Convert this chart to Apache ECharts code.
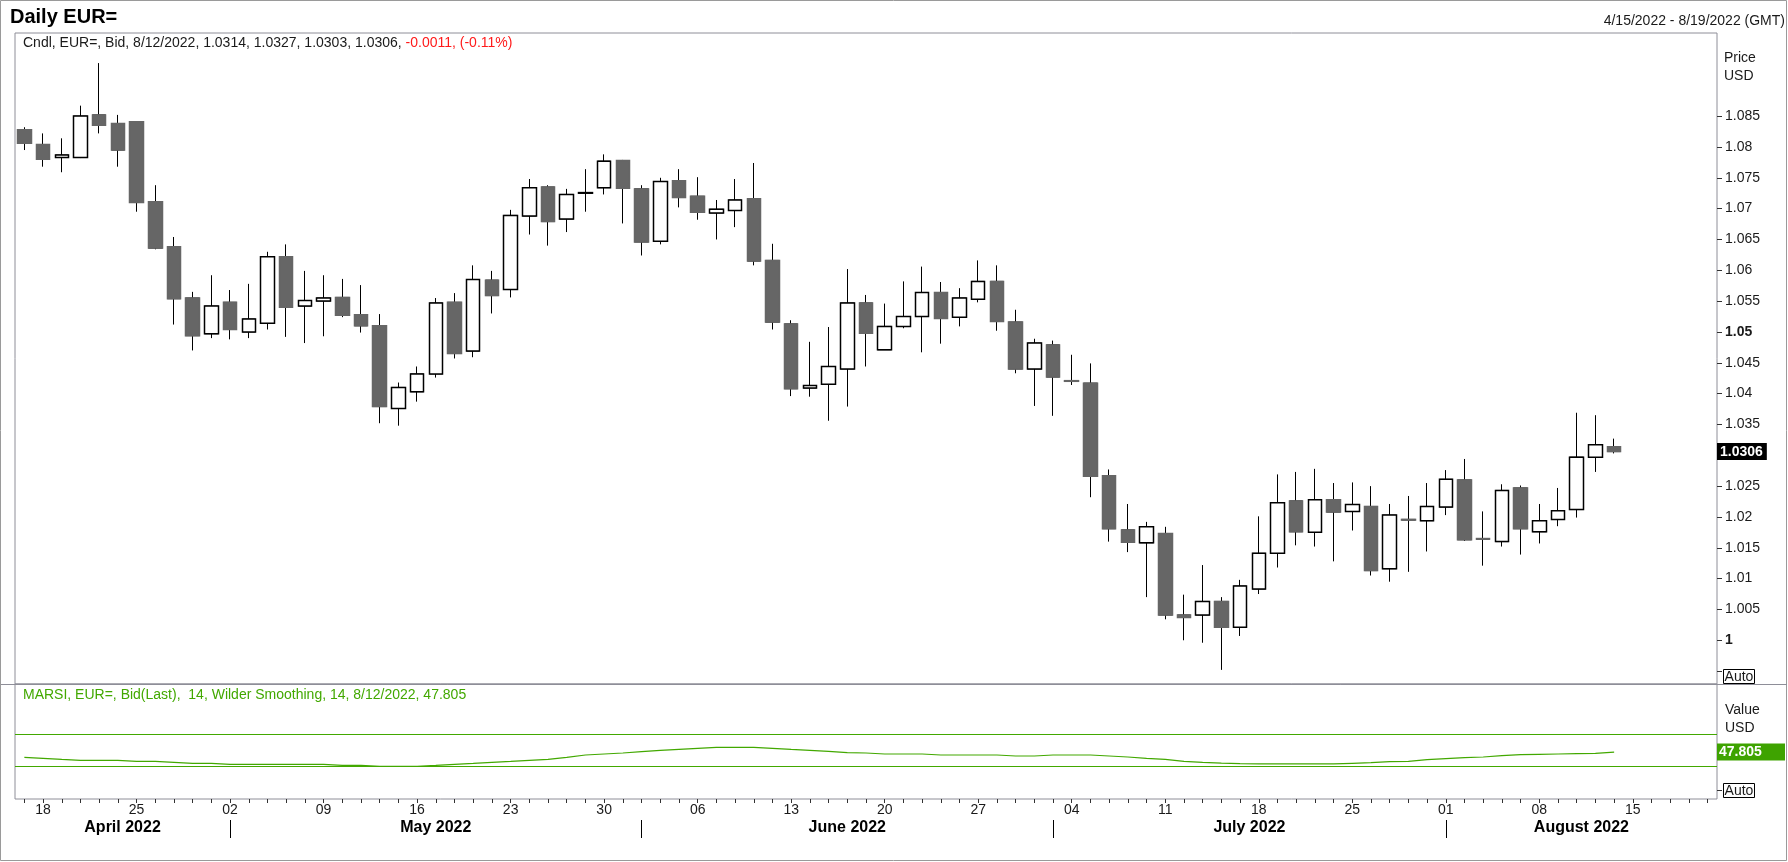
<!DOCTYPE html>
<html>
<head>
<meta charset="utf-8">
<script src="https://cdn.jsdelivr.net/npm/echarts@6/dist/echarts.min.js"></script>
<style>
html,body{margin:0;padding:0;background:#ffffff;}
#chart{width:1788px;height:862px;}
</style>
</head>
<body>
<div id="chart"></div>
<script>
// ---------------- DATA ----------------
const dates = [
'2022-04-15','2022-04-18','2022-04-19','2022-04-20','2022-04-21','2022-04-22','2022-04-25','2022-04-26','2022-04-27','2022-04-28','2022-04-29',
'2022-05-02','2022-05-03','2022-05-04','2022-05-05','2022-05-06','2022-05-09','2022-05-10','2022-05-11','2022-05-12','2022-05-13',
'2022-05-16','2022-05-17','2022-05-18','2022-05-19','2022-05-20','2022-05-23','2022-05-24','2022-05-25','2022-05-26','2022-05-27','2022-05-30','2022-05-31',
'2022-06-01','2022-06-02','2022-06-03','2022-06-06','2022-06-07','2022-06-08','2022-06-09','2022-06-10','2022-06-13','2022-06-14','2022-06-15','2022-06-16','2022-06-17',
'2022-06-20','2022-06-21','2022-06-22','2022-06-23','2022-06-24','2022-06-27','2022-06-28','2022-06-29','2022-06-30',
'2022-07-01','2022-07-04','2022-07-05','2022-07-06','2022-07-07','2022-07-08','2022-07-11','2022-07-12','2022-07-13','2022-07-14','2022-07-15',
'2022-07-18','2022-07-19','2022-07-20','2022-07-21','2022-07-22','2022-07-25','2022-07-26','2022-07-27','2022-07-28','2022-07-29',
'2022-08-01','2022-08-02','2022-08-03','2022-08-04','2022-08-05','2022-08-08','2022-08-09','2022-08-10','2022-08-11','2022-08-12',
'2022-08-15','2022-08-16','2022-08-17','2022-08-18','2022-08-19'
];

const openP = [
1.0828,1.0804,1.0783,1.0783,1.0852,1.0838,1.0841,1.0711,1.0638,1.0555,
1.0497,1.0548,1.0500,1.0514,1.0622,1.0542,1.0550,1.0556,1.0528,1.0510,
1.0376,1.0403,1.0432,1.0548,1.0469,1.0584,1.0569,1.0688,1.0735,1.0683,
1.0725,1.0734,1.0778,1.0732,1.0647,1.0745,1.0720,1.0693,1.0697,1.0716,
1.0616,1.0513,1.0409,1.0415,1.0440,1.0547,1.0471,1.0509,1.0525,1.0564,
1.0524,1.0553,1.0582,1.0516,1.0440,1.0479,1.0421,1.0417,1.0267,1.0179,
1.0158,1.0173,1.0041,1.0041,1.0063,1.0021,1.0083,1.0141,1.0226,1.0175,
1.0228,1.0209,1.0217,1.0116,1.0196,1.0194,1.0216,1.0260,1.0165,1.0160,
1.0247,1.0176,1.0196,1.0212,1.0297,1.0314
];
const highP = [
1.0832,1.0822,1.0814,1.0867,1.0936,1.0852,1.0842,1.0738,1.0654,1.0565,
1.0592,1.0568,1.0578,1.0630,1.0642,1.0599,1.0592,1.0586,1.0576,1.0529,
1.0418,1.0444,1.0555,1.0563,1.0608,1.0599,1.0698,1.0748,1.0738,1.0732,
1.0764,1.0788,1.0779,1.0738,1.0750,1.0764,1.0751,1.0714,1.0748,1.0774,
1.0643,1.0519,1.0484,1.0508,1.0602,1.0560,1.0546,1.0582,1.0606,1.0581,
1.0571,1.0616,1.0608,1.0536,1.0489,1.0486,1.0463,1.0449,1.0277,1.0221,
1.0192,1.0184,1.0074,1.0122,1.0070,1.0098,1.0201,1.0269,1.0273,1.0278,
1.0255,1.0256,1.0250,1.0221,1.0234,1.0255,1.0276,1.0294,1.0209,1.0253,
1.0251,1.0221,1.0247,1.0369,1.0365,1.0327
];
const lowP = [
1.0795,1.0768,1.0759,1.0782,1.0822,1.0768,1.0695,1.0634,1.0512,1.0470,
1.0490,1.0488,1.0490,1.0504,1.0492,1.0482,1.0493,1.0524,1.0499,1.0352,
1.0348,1.0387,1.0426,1.0457,1.0459,1.0530,1.0556,1.0658,1.0640,1.0662,
1.0695,1.0723,1.0676,1.0624,1.0642,1.0702,1.0682,1.0650,1.0670,1.0608,
1.0504,1.0396,1.0395,1.0356,1.0379,1.0444,1.0471,1.0506,1.0467,1.0481,
1.0509,1.0548,1.0502,1.0433,1.0380,1.0364,1.0414,1.0232,1.0160,1.0143,
1.0070,1.0034,1.0000,0.9996,0.9952,1.0007,1.0075,1.0118,1.0154,1.0152,
1.0128,1.0178,1.0105,1.0095,1.0111,1.0144,1.0203,1.0161,1.0121,1.0152,
1.0139,1.0157,1.0185,1.0199,1.0273,1.0303
];
const closeP = [
1.0806,1.0780,1.0787,1.0850,1.0835,1.0795,1.0710,1.0636,1.0554,1.0494,
1.0542,1.0504,1.0521,1.0622,1.0540,1.0551,1.0555,1.0527,1.0510,1.0379,
1.0410,1.0432,1.0547,1.0465,1.0585,1.0559,1.0689,1.0734,1.0679,1.0723,
1.0726,1.0777,1.0733,1.0646,1.0744,1.0718,1.0694,1.0699,1.0714,1.0615,
1.0516,1.0408,1.0413,1.0444,1.0547,1.0498,1.0509,1.0525,1.0564,1.0522,
1.0555,1.0582,1.0517,1.0440,1.0482,1.0427,1.0420,1.0266,1.0181,1.0159,
1.0184,1.0041,1.0037,1.0063,1.0021,1.0088,1.0141,1.0223,1.0176,1.0228,
1.0208,1.0220,1.0113,1.0203,1.0195,1.0217,1.0261,1.0163,1.0164,1.0243,
1.0181,1.0194,1.0210,1.0297,1.0317,1.0306
];

// MA RSI (14, Wilder smoothing)
const rsiValues = [
41.2,40.0,38.7,37.5,37.5,37.5,36.2,36.2,35.0,33.7,
33.7,32.5,32.5,32.5,32.5,32.5,32.5,31.2,31.2,30.0,
30.0,30.0,31.2,32.5,33.7,35.0,36.2,37.5,38.7,41.2,
44.1,45.4,46.6,48.3,50.0,51.2,52.5,53.7,53.7,53.7,
52.5,51.2,50.0,48.7,47.0,46.6,45.4,45.4,45.4,44.1,
44.1,44.1,44.1,42.9,42.9,44.1,44.1,44.1,42.9,41.6,
40.0,38.7,36.2,35.0,34.0,33.3,32.9,32.9,32.9,32.9,
32.9,33.7,34.6,35.8,36.2,38.3,39.6,40.8,41.6,43.3,
44.6,45.0,45.4,45.8,46.2,47.805
];
const rsiLevels = [70, 30];

// axis ticks / labels
const priceTickValues = [0.995,1.0,1.005,1.01,1.015,1.02,1.025,1.03,1.035,1.04,1.045,1.05,1.055,1.06,1.065,1.07,1.075,1.08,1.085];
const priceLabelValues = [1.0,1.005,1.01,1.015,1.02,1.025,1.035,1.04,1.045,1.05,1.055,1.06,1.065,1.07,1.075,1.08,1.085];
const rsiTickValues = [0];
const monthNames = ['January','February','March','April','May','June','July','August','September','October','November','December'];

// ---------------- HELPERS ----------------
const FONT = '"Liberation Sans", Arial, Helvetica, sans-serif';
const GREEN = '#42a800';
const TXT = '#1a1a1a';
const n = closeP.length;
const lastIdx = n - 1;
const lastClose = closeP[lastIdx];
const lastRsi = rsiValues[rsiValues.length - 1];

function usDate(s) {
  const p = s.split('-');
  return (+p[1]) + '/' + (+p[2]) + '/' + p[0];
}
function parseD(s) { return new Date(s + 'T00:00:00Z'); }

const candleData = openP.map((o, i) => [o, closeP[i], lowP[i], highP[i]]);
const bodyData = openP.map((o, i) => [o, closeP[i], Math.min(o, closeP[i]), Math.max(o, closeP[i])]);

// month boundaries from the dates
const monthStarts = [];
for (let i = 1; i < dates.length; i++) {
  if (dates[i].slice(5, 7) !== dates[i - 1].slice(5, 7)) monthStarts.push(i);
}
const bounds = [-0.5].concat(monthStarts, [dates.length - 0.5]);
const monthMids = [];
const monthLabels = [];
for (let k = 0; k < bounds.length - 1; k++) {
  monthMids.push((bounds[k] + bounds[k + 1]) / 2);
  const d = parseD(dates[Math.max(0, Math.ceil(bounds[k]))]);
  monthLabels.push(monthNames[d.getUTCMonth()] + ' ' + d.getUTCFullYear());
}

const change = closeP[lastIdx] - closeP[lastIdx - 1];
const changePct = change / closeP[lastIdx - 1] * 100;
const cndlHead = 'Cndl, EUR=, Bid, ' + usDate(dates[lastIdx]) + ', ' +
  openP[lastIdx].toFixed(4) + ', ' + highP[lastIdx].toFixed(4) + ', ' +
  lowP[lastIdx].toFixed(4) + ', ' + closeP[lastIdx].toFixed(4) + ', ';
const cndlChange = change.toFixed(4) + ', (' + changePct.toFixed(2) + '%)';
const rsiHead = 'MARSI, EUR=, Bid(Last),  14, Wilder Smoothing, 14, ' + usDate(dates[lastIdx]) + ', ' + lastRsi.toFixed(3);
const rangeText = usDate(dates[0]) + ' - ' + usDate(dates[dates.length - 1]) + ' (GMT)';

function fmtPrice(v) { return String(parseFloat(v.toFixed(4))); }

// ---------------- CHART ----------------
const chart = echarts.init(document.getElementById('chart'), null, { renderer: 'canvas' });

const option = {
  animation: false,
  backgroundColor: '#ffffff',
  textStyle: { fontFamily: FONT },
  grid: [
    { left: 15, top: 33, right: 71, height: 651, show: true, borderColor: '#8e8e98', borderWidth: 1, backgroundColor: 'transparent', containLabel: false, outerBoundsMode: 'none' },
    { left: 15, top: 684, right: 71, height: 115, show: true, borderColor: '#8e8e98', borderWidth: 1, backgroundColor: 'transparent', containLabel: false, outerBoundsMode: 'none' }
  ],
  xAxis: [
    {
      type: 'category', gridIndex: 0, data: dates, boundaryGap: true, position: 'bottom',
      axisLine: { show: false, onZero: false }, axisTick: { show: false }, axisLabel: { show: false }, splitLine: { show: false }
    },
    {
      type: 'category', gridIndex: 1, data: dates, boundaryGap: true, position: 'bottom',
      axisLine: { show: false, onZero: false },
      axisTick: { show: true, alignWithLabel: true, interval: 0, length: 4, lineStyle: { color: '#333', width: 1 } },
      axisLabel: {
        show: true, margin: 4, fontSize: 14, color: TXT, fontFamily: FONT,
        interval: function (idx, val) { return parseD(val).getUTCDay() === 1; },
        formatter: function (val) { return val.slice(8, 10); }
      },
      splitLine: { show: false }
    },
    {
      type: 'value', gridIndex: 1, position: 'bottom', offset: 21,
      min: -0.5, max: dates.length - 0.5,
      axisLine: { show: false, onZero: false },
      splitLine: { show: false },
      axisTick: { show: true, customValues: monthStarts, length: 18, lineStyle: { color: '#000', width: 1 } },
      axisLabel: {
        show: true, customValues: monthMids, margin: 0, fontSize: 16, fontWeight: 'bold', color: '#000', fontFamily: FONT,
        formatter: function (v) {
          for (let k = 0; k < monthMids.length; k++) if (Math.abs(monthMids[k] - v) < 1e-6) return monthLabels[k];
          return '';
        }
      }
    }
  ],
  yAxis: [
    {
      type: 'value', gridIndex: 0, position: 'right', scale: true,
      min: 0.99291, max: 1.09848,
      axisLine: { show: false, onZero: false },
      splitLine: { show: false },
      axisTick: { show: true, customValues: priceTickValues, length: 5, lineStyle: { color: '#333', width: 1 } },
      axisLabel: {
        show: true, margin: 0, customValues: priceLabelValues.concat([lastClose]),
        fontSize: 14, color: TXT, fontFamily: FONT,
        formatter: function (v) {
          if (Math.abs(v - lastClose) < 1e-9) return '{cur|' + lastClose.toFixed(4) + '}';
          const s = fmtPrice(v);
          const r = Math.round(v * 1000);
          return (r % 50 === 0) ? '{b|' + s + '}' : '{n|' + s + '}';
        },
        rich: {
          n: { fontSize: 14, color: TXT, padding: [0, 0, 0, 8], fontFamily: FONT },
          b: { fontSize: 14, color: TXT, fontWeight: 'bold', padding: [0, 0, 0, 8], fontFamily: FONT },
          cur: { fontSize: 14, color: '#ffffff', fontWeight: 'bold', backgroundColor: '#000000', padding: [2, 4, 1, 3], fontFamily: FONT }
        }
      }
    },
    {
      type: 'value', gridIndex: 1, position: 'right',
      min: -10.9, max: 132.9,
      axisLine: { show: false, onZero: false },
      splitLine: { show: false },
      axisTick: { show: true, customValues: rsiTickValues, length: 5, lineStyle: { color: '#333', width: 1 } },
      axisLabel: {
        show: true, margin: 0, customValues: [lastRsi],
        formatter: function (v) { return '{box|' + v.toFixed(3) + '}'; },
        rich: {
          box: { fontSize: 14, color: '#ffffff', fontWeight: 'bold', backgroundColor: '#3ea300', width: 64, padding: [2, 2, 1, 2], fontFamily: FONT }
        }
      }
    }
  ],
  series: [
    {
      name: 'wicks', type: 'candlestick', xAxisIndex: 0, yAxisIndex: 0,
      data: candleData, barWidth: 14, z: 2,
      emphasis: { disabled: true }, silent: true,
      itemStyle: { color: '#ffffff', color0: '#666666', borderColor: '#000000', borderColor0: '#000000', borderWidth: 1 }
    },
    {
      name: 'bodies', type: 'candlestick', xAxisIndex: 0, yAxisIndex: 0,
      data: bodyData, barWidth: 14, z: 3,
      emphasis: { disabled: true }, silent: true,
      itemStyle: { color: '#ffffff', color0: '#666666', borderColor: '#000000', borderColor0: '#666666', borderWidth: 1.5 }
    },
    {
      name: 'MARSI', type: 'line', xAxisIndex: 1, yAxisIndex: 1,
      data: rsiValues, showSymbol: false, symbol: 'none', smooth: false,
      lineStyle: { color: GREEN, width: 1.2 }, silent: true,
      markLine: {
        silent: true, symbol: 'none', animation: false,
        label: { show: false },
        lineStyle: { color: GREEN, width: 1.2, type: 'solid' },
        emphasis: { disabled: true },
        data: rsiLevels.map(function (v) { return { yAxis: v }; })
      }
    }
  ],
  graphic: [
    { type: 'rect', silent: true, shape: { x: 0.5, y: 0.5, width: 1786, height: 860 }, style: { fill: 'none', stroke: '#9a9a9a', lineWidth: 1 } },
    { type: 'line', silent: true, shape: { x1: 1, y1: 684.5, x2: 1787, y2: 684.5 }, style: { stroke: '#8e8e98', lineWidth: 1 } },
    { type: 'text', silent: true, x: 10, y: 17, style: { text: 'Daily EUR=', fontSize: 20, fontWeight: 'bold', fontFamily: FONT, fill: '#000', verticalAlign: 'middle', align: 'left' } },
    { type: 'text', silent: true, x: 1785, y: 21, style: { text: rangeText, fontSize: 14, fontFamily: FONT, fill: TXT, verticalAlign: 'middle', align: 'right' } },
    { type: 'text', silent: true, x: 23, y: 43, style: {
        text: '{k|' + cndlHead + '}{r|' + cndlChange + '}',
        fontSize: 14, fontFamily: FONT, verticalAlign: 'middle', align: 'left',
        rich: { k: { fill: TXT, fontSize: 14, fontFamily: FONT }, r: { fill: '#ff1a1a', fontSize: 14, fontFamily: FONT } }
      } },
    { type: 'text', silent: true, x: 23, y: 695, style: { text: rsiHead, fontSize: 14, fontFamily: FONT, fill: GREEN, verticalAlign: 'middle', align: 'left' } },
    { type: 'text', silent: true, x: 1724, y: 49, style: { text: 'Price\nUSD', fontSize: 14, lineHeight: 18, fontFamily: FONT, fill: TXT, verticalAlign: 'top', align: 'left' } },
    { type: 'text', silent: true, x: 1725, y: 701, style: { text: 'Value\nUSD', fontSize: 14, lineHeight: 18, fontFamily: FONT, fill: TXT, verticalAlign: 'top', align: 'left' } },
    { type: 'rect', silent: true, shape: { x: 1723.5, y: 669.5, width: 31, height: 14 }, style: { fill: '#ffffff', stroke: '#000', lineWidth: 1 } },
    { type: 'text', silent: true, x: 1739, y: 677, style: { text: 'Auto', fontSize: 14, fontFamily: FONT, fill: TXT, verticalAlign: 'middle', align: 'center' } },
    { type: 'rect', silent: true, shape: { x: 1723.5, y: 783.5, width: 31, height: 14 }, style: { fill: '#ffffff', stroke: '#000', lineWidth: 1 } },
    { type: 'text', silent: true, x: 1739, y: 791, style: { text: 'Auto', fontSize: 14, fontFamily: FONT, fill: TXT, verticalAlign: 'middle', align: 'center' } }
  ]
};

chart.setOption(option);
</script>
</body>
</html>
